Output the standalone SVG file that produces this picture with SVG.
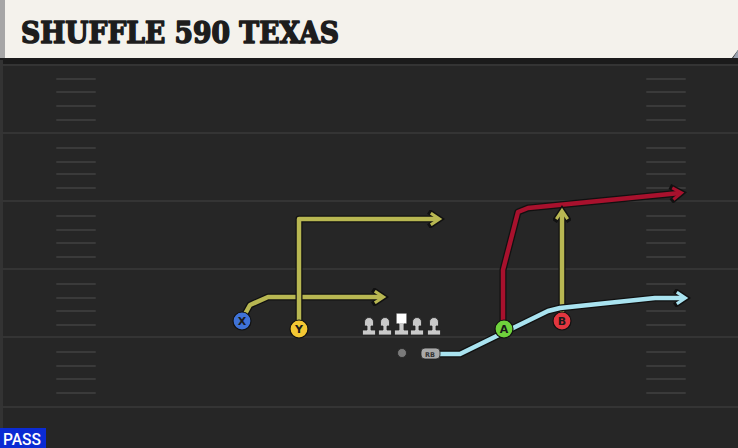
<svg xmlns="http://www.w3.org/2000/svg" width="738" height="448" viewBox="0 0 738 448">
<defs>
<style>
.field{fill:#262626}
.yl{stroke:#343434;stroke-width:2}
.hash{stroke:#3a3a3a;stroke-width:2;stroke-linecap:round}
.out{fill:none;stroke:#111;stroke-width:7;stroke-linejoin:round}
.rt{fill:none;stroke-width:4.5;stroke-linejoin:round}
.yel{stroke:#b8b752}
.red{stroke:#a8112d}
.blu{stroke:#a9e3f0}
.lt{font-family:"DejaVu Sans",sans-serif;font-weight:bold;font-size:11px;fill:#1a1a1a;text-anchor:middle}
.ol{fill:#c9c9c9;stroke:#222;stroke-width:0.8}
.pc{stroke:#111;stroke-width:1.2}
</style>
<marker id="ay" viewBox="0 0 10 10" refX="6" refY="5" markerWidth="3.2" markerHeight="3.2" orient="auto" markerUnits="strokeWidth"><path d="M1,1 L7,5 L1,9" fill="none" stroke="#b8b752" stroke-width="2.2"/></marker>
<marker id="ar" viewBox="0 0 10 10" refX="6" refY="5" markerWidth="3.2" markerHeight="3.2" orient="auto" markerUnits="strokeWidth"><path d="M1,1 L7,5 L1,9" fill="none" stroke="#a8112d" stroke-width="2.2"/></marker>
<marker id="ab" viewBox="0 0 10 10" refX="6" refY="5" markerWidth="3.2" markerHeight="3.2" orient="auto" markerUnits="strokeWidth"><path d="M1,1 L7,5 L1,9" fill="none" stroke="#a9e3f0" stroke-width="2.2"/></marker>
<marker id="ak" viewBox="0 0 10 10" refX="6" refY="5" markerWidth="2.7" markerHeight="2.7" orient="auto" markerUnits="strokeWidth"><path d="M1,1 L7,5 L1,9" fill="none" stroke="#111" stroke-width="3"/></marker>
</defs>
<rect x="0" y="0" width="738" height="448" class="field"/>
<rect x="0" y="56" width="738" height="8" fill="#1b1b1b"/>
<rect x="0" y="60" width="3" height="388" fill="#333333"/>
<g id="field-lines">
<line x1="0" y1="65" x2="738" y2="65" class="yl"/>
<line x1="0" y1="133" x2="738" y2="133" class="yl"/>
<line x1="0" y1="201" x2="738" y2="201" class="yl"/>
<line x1="0" y1="269" x2="738" y2="269" class="yl"/>
<line x1="0" y1="337" x2="738" y2="337" class="yl"/>
<line x1="0" y1="407" x2="738" y2="407" class="yl"/>
</g>
<g id="hashes">
<path class="hash" d="M57,79H95M57,92H95M57,106H95M57,120H95M57,148H95M57,162H95M57,174H95M57,188H95M57,216H95M57,230H95M57,243H95M57,257H95M57,284H95M57,298H95M57,311H95M57,325H95M57,352H95M57,366H95M57,379H95M57,393H95"/>
<path class="hash" d="M647,79H685M647,92H685M647,106H685M647,120H685M647,148H685M647,162H685M647,174H685M647,188H685M647,216H685M647,230H685M647,243H685M647,257H685M647,284H685M647,298H685M647,311H685M647,325H685M647,352H685M647,366H685M647,379H685M647,393H685"/>
</g>
<g id="header">
<path d="M0,0 H738 V50 L732,58 H0 Z" fill="#f4f2ec"/>
<path d="M733,58 L738,50 V58 Z" fill="#9aa3b0"/>
<rect x="0" y="0" width="5" height="58" fill="#a6a6a6"/>
<text x="21" y="43" font-family="'DejaVu Serif',serif" font-weight="bold" font-size="29" fill="#1d1d1d" stroke="#1d1d1d" stroke-width="1.6" stroke-linejoin="round" textLength="318" lengthAdjust="spacingAndGlyphs">SHUFFLE 590 TEXAS</text>
</g>
<g id="connectors">
<polyline class="out" points="245,314 250,305 268,297 382,297" marker-end="url(#ak)"/>
<polyline class="rt yel" points="245,314 250,305 268,297 382,297" marker-end="url(#ay)"/>
<polyline class="out" points="299,328 299,219 438,219" marker-end="url(#ak)"/>
<polyline class="rt yel" points="299,328 299,219 438,219" marker-end="url(#ay)"/>
<polyline class="out" points="503,328 503,270 518,212 528,208 680,193" marker-end="url(#ak)"/>
<polyline class="rt red" points="503,328 503,270 518,212 528,208 680,193" marker-end="url(#ar)"/>
<polyline class="out" points="562,320 562,212" marker-end="url(#ak)"/>
<polyline class="rt yel" points="562,320 562,212" marker-end="url(#ay)"/>
<polyline class="out" points="438,354 460,354 548,311 560,308 655,298 684,298" marker-end="url(#ak)"/>
<polyline class="rt blu" points="438,354 460,354 548,311 560,308 655,298 684,298" marker-end="url(#ab)"/>
</g>
<g id="line">
<g class="ol">
<path d="M364.5,322 a4.5,4.5 0 0 1 9,0 v4 h-2.5 v4 h4.5 v5 h-13 v-5 h4.5 v-4 h-2.5 z"/>
<path d="M380.5,322 a4.5,4.5 0 0 1 9,0 v4 h-2.5 v4 h4.5 v5 h-13 v-5 h4.5 v-4 h-2.5 z"/>
<path d="M412.5,322 a4.5,4.5 0 0 1 9,0 v4 h-2.5 v4 h4.5 v5 h-13 v-5 h4.5 v-4 h-2.5 z"/>
<path d="M429.5,322 a4.5,4.5 0 0 1 9,0 v4 h-2.5 v4 h4.5 v5 h-13 v-5 h4.5 v-4 h-2.5 z"/>
</g>
<path d="M396,313 h11 v11 h-3 v6 h4.5 v5 h-14 v-5 h4.5 v-6 h-3 z" fill="#c9c9c9" stroke="#222" stroke-width="0.8"/>
<rect x="397" y="314" width="9" height="9" fill="#ffffff"/>
</g>
<g id="qb"><circle cx="402" cy="353" r="4.5" fill="#7a7a7a" stroke="#222" stroke-width="0.8"/></g>
<g id="rb">
<rect x="421" y="348" width="19" height="11" rx="4" fill="#a9a9a9" stroke="#222" stroke-width="0.8"/>
<text x="430" y="356.5" font-family="'DejaVu Sans',sans-serif" font-size="6.5" font-weight="bold" fill="#333" text-anchor="middle">RB</text>
</g>
<g id="X"><circle class="pc" cx="242" cy="321" r="9" fill="#3f72d6"/><text class="lt" x="242" y="325">X</text></g>
<g id="Y"><circle class="pc" cx="299" cy="329" r="9" fill="#f3c733"/><text class="lt" x="299" y="333">Y</text></g>
<g id="A"><circle class="pc" cx="504" cy="329" r="9" fill="#6fd23c"/><text class="lt" x="504" y="333">A</text></g>
<g id="B"><circle class="pc" cx="562" cy="321" r="9" fill="#e2363f"/><text class="lt" x="562" y="325">B</text></g>
<g id="pass">
<rect x="0" y="428" width="46" height="20" fill="#0b2bd3"/>
<text x="3" y="445" font-family="Roboto,'Liberation Sans',sans-serif" font-weight="500" font-size="16" fill="#ffffff" textLength="38" lengthAdjust="spacingAndGlyphs">PASS</text>
</g>
</svg>
